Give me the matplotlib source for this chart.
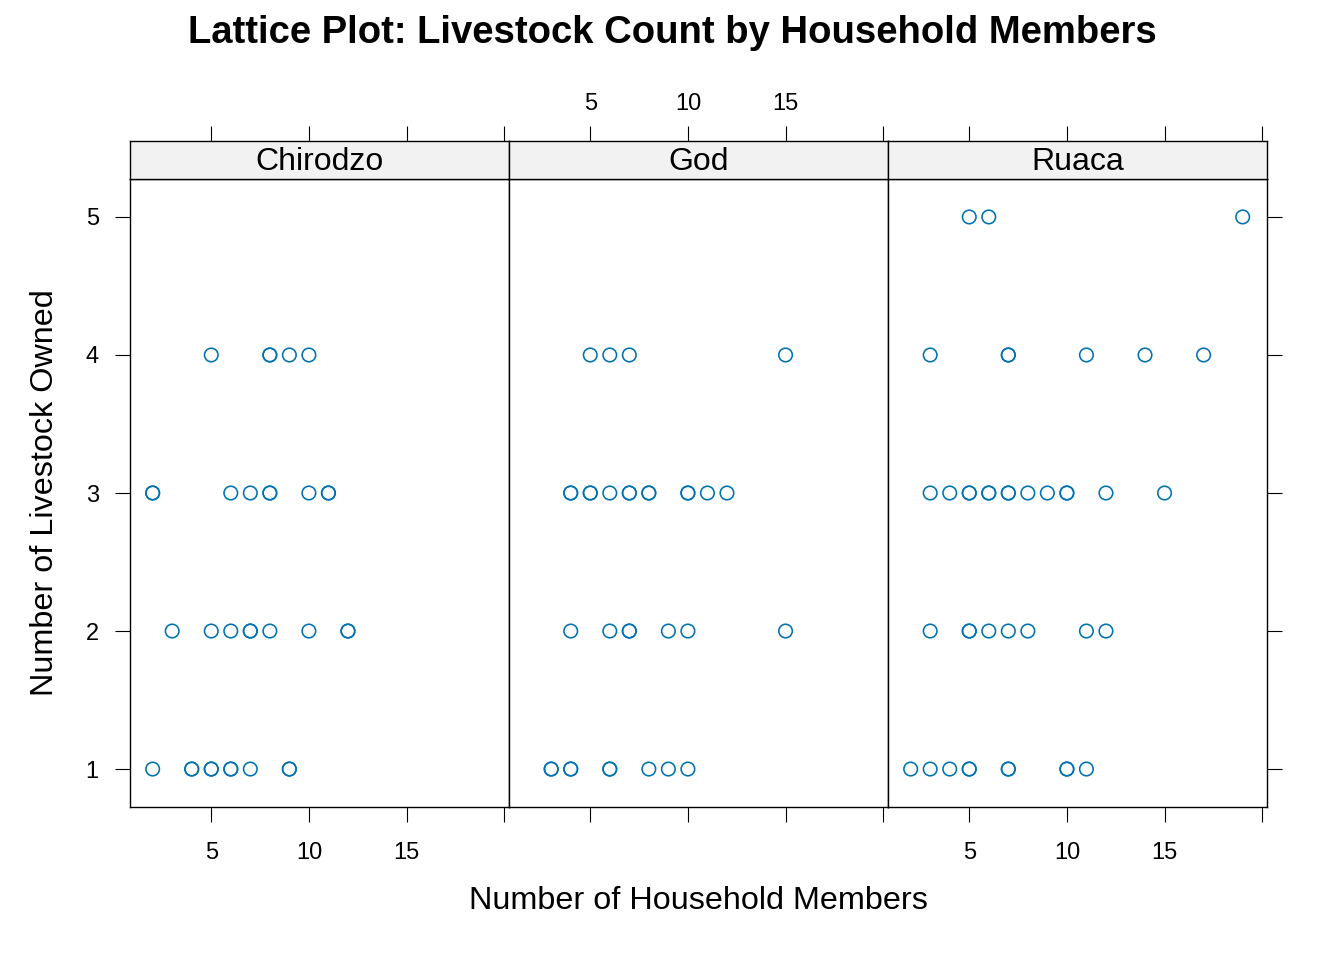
import matplotlib
matplotlib.use("Agg")
import matplotlib.pyplot as plt

plt.rcParams["font.family"] = ["Liberation Sans", "DejaVu Sans"]

villages = ["Chirodzo", "God", "Ruaca"]

# household members (x) and livestock count (y) per village
chirodzo_x = [5, 8, 8, 9, 10,
              2, 2, 6, 7, 8, 8, 10, 11, 11,
              3, 5, 6, 7, 7, 8, 10, 12, 12,
              2, 4, 4, 5, 5, 6, 6, 7, 9, 9]
chirodzo_y = [4, 4, 4, 4, 4,
              3, 3, 3, 3, 3, 3, 3, 3, 3,
              2, 2, 2, 2, 2, 2, 2, 2, 2,
              1, 1, 1, 1, 1, 1, 1, 1, 1, 1]

god_x = [5, 6, 7, 15,
         4, 4, 5, 5, 6, 7, 7, 8, 8, 10, 10, 11, 12,
         4, 6, 7, 7, 9, 10, 15,
         3, 3, 4, 4, 6, 6, 8, 9, 10]
god_y = [4, 4, 4, 4,
         3, 3, 3, 3, 3, 3, 3, 3, 3, 3, 3, 3, 3,
         2, 2, 2, 2, 2, 2, 2,
         1, 1, 1, 1, 1, 1, 1, 1, 1]

ruaca_x = [5, 6, 19,
           3, 7, 7, 11, 14, 17,
           3, 4, 5, 5, 6, 6, 7, 7, 8, 9, 10, 10, 12, 15,
           3, 5, 5, 6, 7, 8, 11, 12,
           2, 3, 4, 5, 5, 7, 7, 10, 10, 11]
ruaca_y = [5, 5, 5,
           4, 4, 4, 4, 4, 4,
           3, 3, 3, 3, 3, 3, 3, 3, 3, 3, 3, 3, 3, 3,
           2, 2, 2, 2, 2, 2, 2, 2,
           1, 1, 1, 1, 1, 1, 1, 1, 1, 1]

xs = [chirodzo_x, god_x, ruaca_x]
ys = [chirodzo_y, god_y, ruaca_y]

W, H = 1344, 960
fig = plt.figure(figsize=(W / 100, H / 100), dpi=100)

def box(l, t, r, b):
    return [l / W, 1 - b / H, (r - l) / W, (b - t) / H]

lefts = [130, 509, 888]
pw = 378.5
tick_len = 10.5

for i, v in enumerate(villages):
    l = lefts[i]
    ax = fig.add_axes(box(l, 179, l + pw, 807))
    ax.scatter(xs[i], ys[i], s=95, facecolors="none", edgecolors="#0072B2", linewidths=1.15, zorder=3)
    ax.set_xlim(0.84, 20.22)
    ax.set_ylim(0.725, 5.275)
    ax.set_xticks([5, 10, 15, 20])
    ax.set_xticklabels(["5", "10", "15", ""])
    ax.set_yticks([1, 2, 3, 4, 5])
    ax.tick_params(axis="x", direction="out", length=tick_len, width=0.8, labelsize=17,
                   pad=14.5, bottom=True, top=False, labelbottom=(i != 1))
    ax.tick_params(axis="y", direction="out", length=tick_len, width=0.8, labelsize=17, pad=12,
                   left=(i == 0), labelleft=(i == 0), right=(i == 2), labelright=False)
    for sp in ax.spines.values():
        sp.set_linewidth(1.0)

    sax = fig.add_axes(box(l, 141, l + pw, 179), facecolor="#F2F2F2")
    sax.set_xlim(0.84, 20.22)
    sax.set_ylim(0, 1)
    sax.set_yticks([])
    sax.set_xticks([5, 10, 15, 20])
    sax.set_xticklabels(["5", "10", "15", ""])
    sax.tick_params(axis="x", direction="out", length=tick_len, width=0.8, labelsize=17,
                    pad=8, bottom=False, labelbottom=False, top=True, labeltop=(i == 1))
    for sp in sax.spines.values():
        sp.set_linewidth(1.0)
    sax.text(0.5, 0.45, v, transform=sax.transAxes, ha="center", va="center", fontsize=23)

fig.text(672 / W, 1 - 33 / H, "Lattice Plot: Livestock Count by Household Members",
         ha="center", va="center", fontsize=27.5, fontweight="bold")
fig.text(698 / W, 1 - 901 / H, "Number of Household Members", ha="center", va="center", fontsize=23.3)
fig.text(45 / W, 1 - 493 / H, "Number of Livestock Owned", ha="center", va="center",
         fontsize=23.3, rotation=90)

fig.savefig("out.png", dpi=100)
